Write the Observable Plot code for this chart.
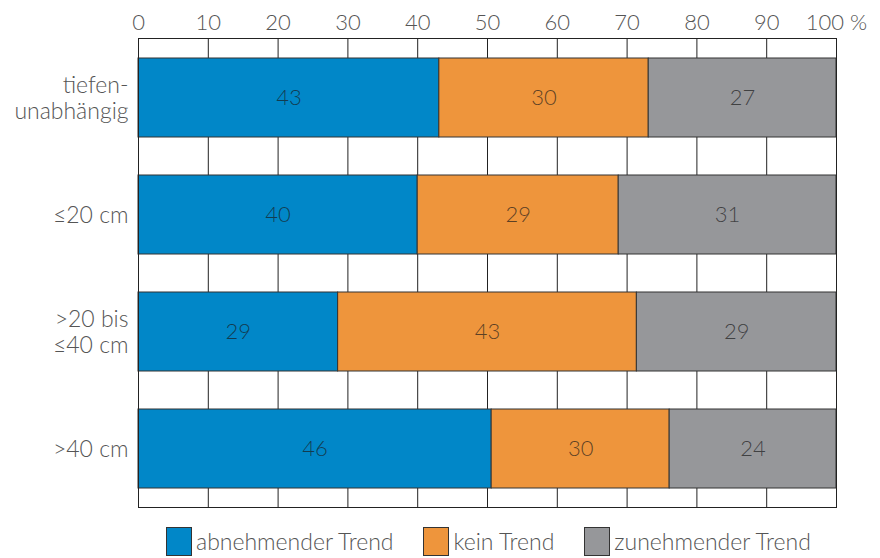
<!DOCTYPE html>
<html><head><meta charset="utf-8">
<script src="https://cdn.jsdelivr.net/npm/d3@7"></script>
<script src="https://cdn.jsdelivr.net/npm/@observablehq/plot@0.6"></script>
<style>
body{margin:0;background:#fff;font-family:Lato,"Open Sans",sans-serif;font-weight:300}
#legend{display:flex;gap:30px;margin-left:166px;margin-top:17px;align-items:center}
.item{display:flex;align-items:center;gap:4px;font-size:23px;color:#555;line-height:29px}
.sw{width:26px;height:29px;border:1px solid #333;box-sizing:border-box}
</style></head><body><div id="chart"></div><div id="legend"></div><script>
const categories = ["tiefen-\nunabhängig", "≤20 cm", ">20 bis\n≤40 cm", ">40 cm"];
const trends = ["abnehmender Trend", "kein Trend", "zunehmender Trend"];
const colors = ["#0187c8", "#ee953c", "#96979a"];
// bar widths as drawn (percent)
const abnehmend = [43.1, 40.0, 28.6, 50.6];
const kein = [30.0, 28.8, 42.8, 25.5];
const zunehmend = [26.9, 31.2, 28.6, 23.9];
// printed labels
const labelAbnehmend = [43, 40, 29, 46];
const labelKein = [30, 29, 43, 30];
const labelZunehmend = [27, 31, 29, 24];
const xTicks = [0, 10, 20, 30, 40, 50, 60, 70, 80, 90, 100];

const series = [abnehmend, kein, zunehmend];
const labels = [labelAbnehmend, labelKein, labelZunehmend];
const data = [];
categories.forEach((c, i) => trends.forEach((t, j) => data.push({cat: c, trend: t, value: series[j][i], label: labels[j][i]})));

const chart = Plot.plot({
  width: 880, height: 510,
  marginLeft: 138, marginRight: 44, marginTop: 38, marginBottom: 3,
  style: {fontFamily: "Lato, 'Open Sans', sans-serif", fontWeight: 300, fontSize: "22px", background: "#fff"},
  x: {domain: [0, 100], axis: null},
  y: {domain: categories, paddingInner: 0.325, paddingOuter: 0.1625, axis: null},
  color: {domain: trends, range: colors},
  marks: [
    Plot.ruleX(xTicks.slice(1, -1), {stroke: "#222", strokeWidth: 1}),
    Plot.barX(data, Plot.stackX({x: "value", y: "cat", fill: "trend", stroke: "#333", strokeWidth: 1, order: trends})),
    Plot.text(data, Plot.stackX({x: "value", y: "cat", z: "trend", text: "label", order: trends, fill: "#1a1a1a", fillOpacity: 0.7, fontSize: 22})),
    Plot.frame({stroke: "#222"}),
    Plot.axisX(xTicks, {anchor: "top", label: null, tickSize: 0, tickPadding: 9, fill: "#555", fontSize: 22, tickFormat: d => d === 100 ? "100 %" : String(d)}),
    Plot.axisY({label: null, tickSize: 0, tickPadding: 10, fill: "#555", fontSize: 23, lineHeight: 1.12})
  ]
});
document.getElementById("chart").appendChild(chart);

const legend = document.getElementById("legend");
trends.forEach((t, j) => {
  const item = document.createElement("div");
  item.className = "item";
  const sw = document.createElement("div");
  sw.className = "sw";
  sw.style.background = colors[j];
  const lab = document.createElement("span");
  lab.textContent = t;
  item.appendChild(sw); item.appendChild(lab);
  legend.appendChild(item);
});
</script></body></html>
